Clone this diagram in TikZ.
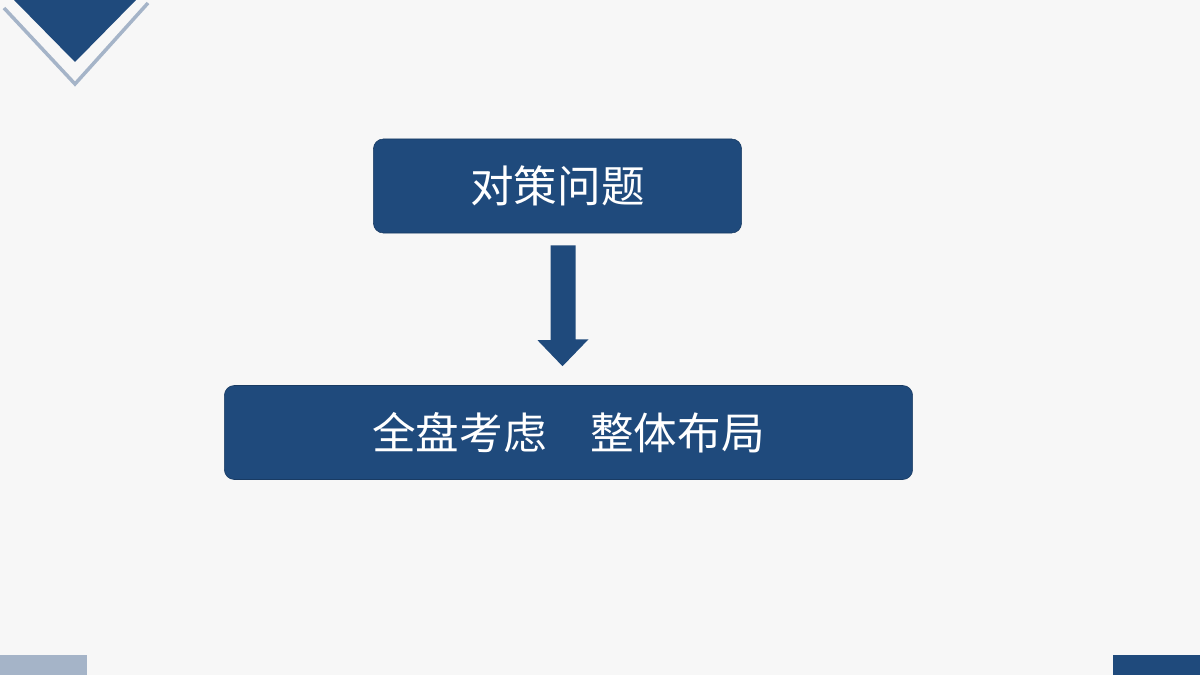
\documentclass[tikz,border=0pt]{standalone}
\usepackage{fontspec}
\newfontfamily\cjk{Noto Sans CJK SC}
\usetikzlibrary{positioning, calc}
\definecolor{navyblue}{RGB}{31, 74, 124}
\definecolor{paleblue}{RGB}{165, 180, 200}
\definecolor{pagegray}{RGB}{247, 247, 247}
\tikzset{
    % Title boxes
    topic box/.style={
        rectangle, rounded corners=7pt, draw=navyblue!80!black, fill=navyblue,
        minimum height=2.35cm, text=white, font=\cjk\fontsize{31}{36}\selectfont
    }
}
\begin{document}
\begin{tikzpicture}[x=0.025cm, y=-0.025cm]

    % Page
    \fill[pagegray] (0,0) rectangle (1200,675);
    \useasboundingbox (0,0) rectangle (1200,675);

    % Corner decorations
    \fill[navyblue] (14,0) -- (136,0) -- (75,62) -- cycle;
    \draw[paleblue, line width=2.5pt] (4,8) -- (75,84) -- (148,3);
    \fill[paleblue] (0,655) rectangle (87,675);
    \fill[navyblue] (1113,655) rectangle (1200,675);

    % Boxes
    \node[topic box, minimum width=9.2cm] (Q) at (557.5,186) {对策问题};
    \node[topic box, minimum width=17.2cm] (S) at (568.5,432.5) {全盘考虑\hspace{1em}整体布局};

    % Block arrow
    \fill[navyblue] ($(Q.south)+(-7,12)$) -- ++(25,0) -- ++(0,94) -- ++(13,0)
        -- ($(S.north)+(-6,-19)$) -- ++(-25,-26) -- ++(13,0) -- cycle;

\end{tikzpicture}
\end{document}
